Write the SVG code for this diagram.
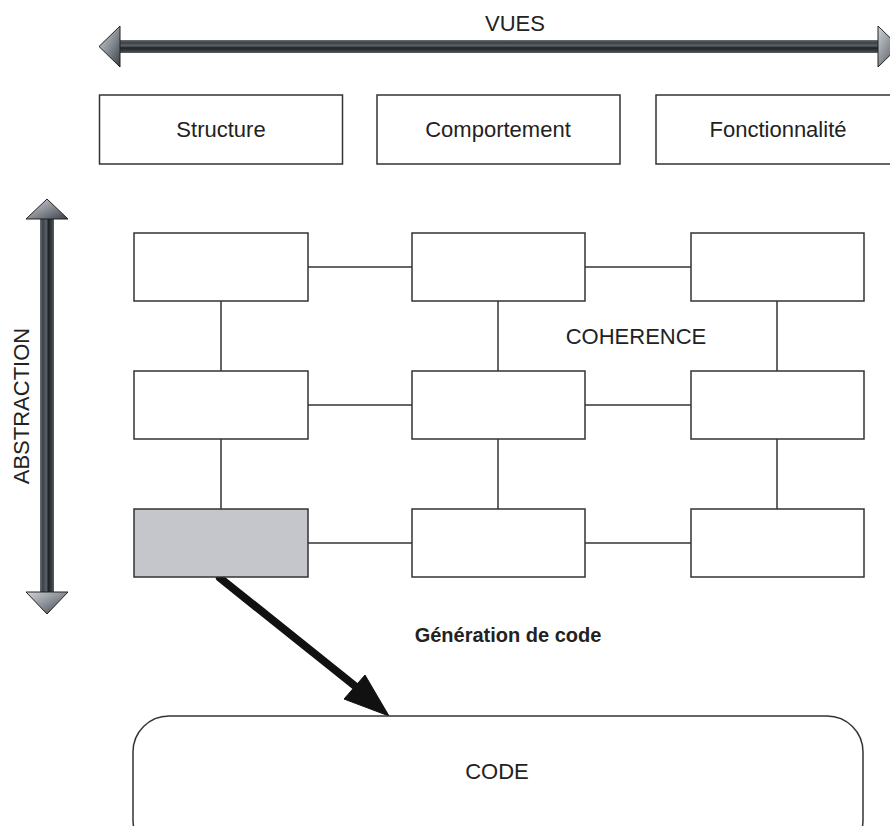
<svg xmlns="http://www.w3.org/2000/svg" width="890" height="826" viewBox="0 0 890 826">
<defs>
<linearGradient id="shaftH" x1="0" y1="0" x2="0" y2="1">
<stop offset="0" stop-color="#6a7177"/><stop offset="0.2" stop-color="#3b4045"/><stop offset="0.45" stop-color="#5c6268"/><stop offset="0.6" stop-color="#1f2225"/><stop offset="0.85" stop-color="#3a3f44"/><stop offset="1" stop-color="#5a6066"/>
</linearGradient>
<linearGradient id="shaftV" x1="0" y1="0" x2="1" y2="0">
<stop offset="0" stop-color="#6a7177"/><stop offset="0.2" stop-color="#3b4045"/><stop offset="0.45" stop-color="#5c6268"/><stop offset="0.6" stop-color="#1f2225"/><stop offset="0.85" stop-color="#3a3f44"/><stop offset="1" stop-color="#5a6066"/>
</linearGradient>
<linearGradient id="head" x1="0" y1="0" x2="1" y2="1">
<stop offset="0" stop-color="#d0d4d8"/><stop offset="0.5" stop-color="#8a9096"/><stop offset="1" stop-color="#3a3f44"/>
</linearGradient>
</defs>
<style>
.box{fill:#fff;stroke:#333;stroke-width:1.5}
.t{font-family:"Liberation Sans",Arial,sans-serif;font-size:22px;fill:#222;text-anchor:middle}
.c{stroke:#333;stroke-width:1.5;fill:none}
.ar{stroke:#222;stroke-width:1}
</style>
<g id="vues-arrow">
<rect x="118" y="40" width="762" height="13" fill="url(#shaftH)"/>
<polygon class="ar" points="99,46.5 120,26 120,67" fill="url(#head)"/>
<polygon class="ar" points="899,46.5 878,26 878,67" fill="url(#head)"/>
<text class="t" x="515" y="31">VUES</text>
</g>
<g id="abstraction-arrow">
<rect x="40" y="217" width="14" height="377" fill="url(#shaftV)"/>
<polygon class="ar" points="47,199 26,219 68,219" fill="url(#head)"/>
<polygon class="ar" points="47,614 26,592 68,592" fill="url(#head)"/>
<text class="t" transform="translate(29,406) rotate(-90)">ABSTRACTION</text>
</g>
<g id="structure"><rect class="box" x="99.5" y="95" width="243" height="69"/><text class="t" x="221" y="137">Structure</text></g>
<g id="comportement"><rect class="box" x="377" y="95" width="243" height="69"/><text class="t" x="498" y="137">Comportement</text></g>
<g id="fonctionnalite"><rect class="box" x="656" y="95" width="250" height="69"/><text class="t" x="778" y="137">Fonctionnalité</text></g>
<g id="connectors">
<line class="c" x1="308" y1="267" x2="412" y2="267"/>
<line class="c" x1="585" y1="267" x2="691" y2="267"/>
<line class="c" x1="308" y1="405" x2="412" y2="405"/>
<line class="c" x1="585" y1="405" x2="691" y2="405"/>
<line class="c" x1="308" y1="543" x2="412" y2="543"/>
<line class="c" x1="585" y1="543" x2="691" y2="543"/>
<line class="c" x1="221" y1="301" x2="221" y2="371"/>
<line class="c" x1="221" y1="439" x2="221" y2="509"/>
<line class="c" x1="498" y1="301" x2="498" y2="371"/>
<line class="c" x1="498" y1="439" x2="498" y2="509"/>
<line class="c" x1="777" y1="301" x2="777" y2="371"/>
<line class="c" x1="777" y1="439" x2="777" y2="509"/>
<line x1="220" y1="578" x2="370" y2="698" stroke="#111" stroke-width="8" stroke-linecap="round"/>
<polygon points="389,716 365,675 344,699" fill="#111" stroke="#111" stroke-width="1"/>
</g>
<g id="n11"><rect class="box" x="134" y="233" width="174" height="68"/></g>
<g id="n12"><rect class="box" x="412" y="233" width="173" height="68"/></g>
<g id="n13"><rect class="box" x="691" y="233" width="173" height="68"/></g>
<g id="n21"><rect class="box" x="134" y="371" width="174" height="68"/></g>
<g id="n22"><rect class="box" x="412" y="371" width="173" height="68"/></g>
<g id="n23"><rect class="box" x="691" y="371" width="173" height="68"/></g>
<g id="n31"><rect class="box" x="134" y="509" width="174" height="68" style="fill:#c4c6cc"/></g>
<g id="n32"><rect class="box" x="412" y="509" width="173" height="68"/></g>
<g id="n33"><rect class="box" x="691" y="509" width="173" height="68"/></g>
<g id="labels">
<text class="t" x="636" y="344">COHERENCE</text>
<text class="t" x="508" y="642" style="font-weight:bold;font-size:20px">Génération de code</text>
</g>
<g id="code"><rect class="box" x="133" y="716" width="730" height="140" rx="36"/><text class="t" x="497" y="779">CODE</text></g>
</svg>
